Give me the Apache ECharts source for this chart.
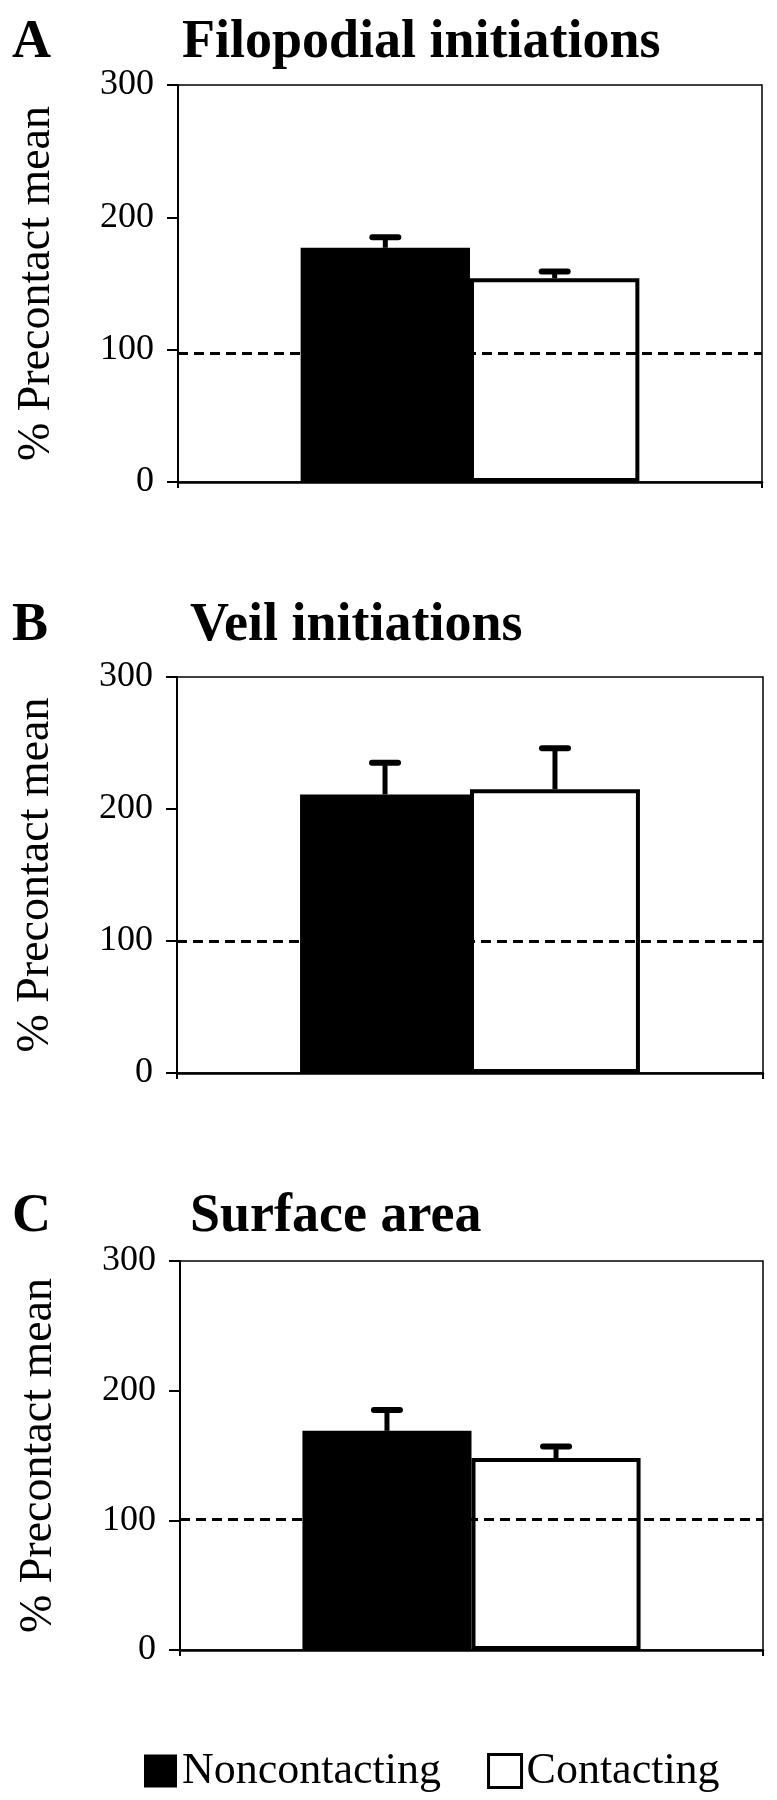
<!DOCTYPE html>
<html>
<head>
<meta charset="utf-8">
<script src="https://cdn.jsdelivr.net/npm/echarts@6/dist/echarts.min.js"></script>
<style>
html, body { margin: 0; padding: 0; background: #fff; }
#chart { width: 777px; height: 1800px; }
</style>
</head>
<body>
<div id="chart"></div>
<script>
// values (% of precontact mean)
const panelLetters = ['A', 'B', 'C']
const panelTitles = ['Filopodial initiations', 'Veil initiations', 'Surface area']
const categories = ['']
const noncontacting = [177, 211, 169]
const noncontactingErr = [8, 24, 16]
const contacting = [154, 215, 148]
const contactingErr = [5, 31, 9]
const precontactLine = [97, 99.5, 100.5]
const yTicks = [0, 100, 200, 300]

const font = '"Liberation Serif", "Times New Roman", serif'
const grids = [
    { left: 178, right: 15, top: 85, height: 397 },
    { left: 177, right: 14, top: 677, height: 396 },
    { left: 180, right: 14, top: 1261, height: 389 }
]
const titleTops = [11, 594, 1185]
const titleLefts = [177, 185, 185]
const BAR_W = 0.29

function errorBars(gi, means, errs, side) {
    return {
        type: 'custom',
        xAxisIndex: gi,
        yAxisIndex: gi,
        z: 5,
        silent: true,
        data: [[0, means[gi], means[gi] + errs[gi]]],
        renderItem: (params, api) => {
            const band = api.size([1, 0])[0]
            const base = api.coord([api.value(0), api.value(1)])
            const top = api.coord([api.value(0), api.value(2)])
            const x = base[0] + side * band * BAR_W / 2
            return {
                type: 'group',
                children: [
                    { type: 'line', shape: { x1: x, y1: base[1], x2: x, y2: top[1] }, style: { stroke: '#000', lineWidth: 5 } },
                    { type: 'line', shape: { x1: x - 13, y1: top[1], x2: x + 13, y2: top[1] }, style: { stroke: '#000', lineWidth: 6, lineCap: 'round' } }
                ]
            }
        }
    }
}

const title = []
const xAxis = []
const yAxis = []
const series = []

grids.forEach((g, gi) => {
    title.push({ text: panelLetters[gi], left: 7, top: titleTops[gi], textStyle: { fontFamily: font, fontSize: 54, fontWeight: 'bold', color: '#000' } })
    title.push({ text: panelTitles[gi], left: titleLefts[gi], top: titleTops[gi], textStyle: { fontFamily: font, fontSize: 54, fontWeight: 'bold', color: '#000' } })

    xAxis.push({
        type: 'category',
        gridIndex: gi,
        data: categories,
        axisLine: { lineStyle: { color: '#000', width: 2.5 } },
        axisTick: { show: true, length: 6, lineStyle: { color: '#000', width: 2 } },
        axisLabel: { show: false }
    })
    yAxis.push({
        type: 'value',
        gridIndex: gi,
        min: yTicks[0],
        max: yTicks[yTicks.length - 1],
        interval: 100,
        name: '% Precontact mean',
        nameLocation: 'middle',
        nameGap: 118,
        nameTextStyle: { fontFamily: font, fontSize: 46, color: '#000' },
        axisLine: { show: true, lineStyle: { color: '#000', width: 2 } },
        axisTick: { show: true, length: 11, lineStyle: { color: '#000', width: 2 } },
        axisLabel: { fontFamily: font, fontSize: 36, color: '#000', margin: 24 },
        splitLine: { show: false }
    })

    series.push({
        type: 'line',
        xAxisIndex: gi,
        yAxisIndex: gi,
        data: [],
        z: 1,
        markLine: {
            silent: true,
            symbol: 'none',
            label: { show: false },
            lineStyle: { color: '#000', type: [10, 6], width: 3 },
            data: [{ yAxis: precontactLine[gi] }]
        }
    })
    series.push({
        type: 'bar',
        name: 'Noncontacting',
        xAxisIndex: gi,
        yAxisIndex: gi,
        data: [noncontacting[gi]],
        barWidth: (BAR_W * 100) + '%',
        barGap: '0%',
        z: 2,
        itemStyle: { color: '#000' }
    })
    series.push({
        type: 'bar',
        name: 'Contacting',
        xAxisIndex: gi,
        yAxisIndex: gi,
        data: [contacting[gi]],
        barWidth: (BAR_W * 100) + '%',
        barGap: '0%',
        z: 2,
        itemStyle: { color: '#fff', borderColor: '#000', borderWidth: 4 }
    })
    series.push(errorBars(gi, noncontacting, noncontactingErr, -1))
    series.push(errorBars(gi, contacting, contactingErr, 1))
})

const chart = echarts.init(document.getElementById('chart'))
chart.setOption({
    animation: false,
    backgroundColor: '#fff',
    textStyle: { fontFamily: font },
    title: title,
    grid: grids.map(g => Object.assign({ show: true, borderColor: '#000', borderWidth: 1.5 }, g)),
    legend: {
        data: [
            { name: 'Noncontacting', itemStyle: { color: '#000', borderWidth: 0 } },
            { name: 'Contacting', itemStyle: { color: '#fff', borderColor: '#000', borderWidth: 3 } }
        ],
        left: 139,
        top: 1744,
        icon: 'rect',
        itemWidth: 33,
        itemHeight: 33,
        itemGap: 46,
        textStyle: { fontFamily: font, fontSize: 44, color: '#000' }
    },
    xAxis: xAxis,
    yAxis: yAxis,
    series: series
})
</script>
</body>
</html>
